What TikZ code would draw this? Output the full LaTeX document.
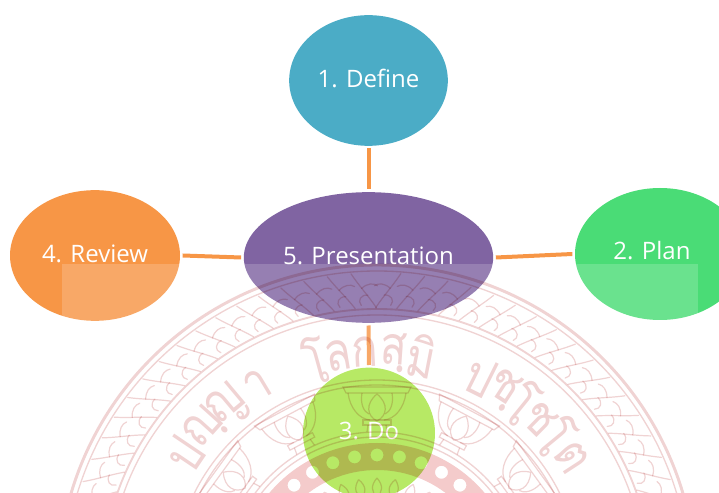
\documentclass[tikz,border=0pt]{standalone}
\usepackage{fontspec}
\setmainfont{Open Sans}
\newfontfamily\thaifont[Script=Thai,FakeStretch=0.82]{Loma}
\usetikzlibrary{calc,shapes.geometric}
\definecolor{stepblue}{HTML}{4BACC6}
\definecolor{steppurple}{HTML}{8064A2}
\definecolor{steporange}{HTML}{F79646}
\definecolor{stepgreen}{HTML}{4ADC76}
\definecolor{steplime}{HTML}{A8E544}
\definecolor{sealline}{HTML}{F0D3D3}
\definecolor{sealband}{HTML}{F4CBCB}
\tikzset{
  stepnode/.style={ellipse,inner sep=0pt,outer sep=2pt,text=white,text depth=3pt,font=\fontsize{18}{20}\selectfont},
  steplink/.style={steporange,line width=3pt},
  sealring/.style={sealline,line width=0.9pt},
  sealglyph/.style={inner sep=0pt,text=sealline,font=\thaifont\fontsize{40}{44}\selectfont},
}
\begin{document}
\begin{tikzpicture}[x=0.75pt,y=0.75pt]
\useasboundingbox (0,0) rectangle (719,493);
\clip (0,0) rectangle (719,493);
\node[stepnode,fill=stepgreen,minimum width=127.5pt,minimum height=99pt] (nplan) at (660,239) {};
\node[stepnode,fill=stepblue,minimum width=119pt,minimum height=98pt] (ndefine) at (368.5,412.5) {1. Define};
\node[stepnode,fill=steppurple,minimum width=187pt,minimum height=98pt] (npresent) at (368.5,235.5) {5. Presentation};
\node[stepnode,fill=steporange,minimum width=127.5pt,minimum height=98pt] (nreview) at (95,237.5) {4. Review};
\node[stepnode,fill=steplime,minimum width=99pt,minimum height=98pt] (ndo) at (369,60) {3. Do};
\node[stepnode] (nplantext) at (652,241) {2. Plan};
\draw[steplink] (ndefine.south) -- (npresent.north);
\draw[steplink] (npresent.south) -- (ndo.north);
\draw[steplink] (nreview.east) -- (npresent.west);
\draw[steplink] (npresent.east) -- (nplan.west);
% lighter panel over the lower part
\fill[white,opacity=0.18] (62,0) rectangle (698,229);
% seal
\begin{scope}[shift={(377,-91)},blend mode=multiply]
\foreach \r/\w in {319/2.2,313/1,275/1.4,269/1,204/1,199/1,152/1,147/1} {
  \draw[sealring,line width=\w pt] (0,0) circle (\r);
}
\foreach \a in {-90,-85.6,...,90} {
  \pgfmathsetmacro\s{ifthenelse(\a<0,-1,1)}
  \begin{scope}[rotate=\a,xscale=\s]
  \draw[sealring,line cap=round] (-13,311) .. controls (-5,298) and (3,289) .. (11,276);
  \draw[sealring,line cap=round] (-3,296) .. controls (3,301) and (9,301) .. (13,298);
  \draw[sealring,line cap=round] (3,289) .. controls (-4,290) and (-8,284) .. (-4,279);
  \end{scope}
}
% lotus posts
\foreach \a in {-54,-28,0,28,54} {
  \begin{scope}[rotate=\a]
  \draw[sealring] (-34,197) -- (34,197) -- (31,191) -- (-31,191) -- cycle;
  \draw[sealring] (0,190) .. controls (-12,180) and (-10,168) .. (0,163) .. controls (10,168) and (12,180) .. (0,190);
  \draw[sealring] (-29,191) .. controls (-27,176) and (-18,165) .. (-7,164);
  \draw[sealring] (29,191) .. controls (27,176) and (18,165) .. (7,164);
  \draw[sealring] (-15,191) .. controls (-17,180) and (-13,172) .. (-8,170);
  \draw[sealring] (15,191) .. controls (17,180) and (13,172) .. (8,170);
  \draw[sealring] (-14,164) rectangle (14,159);
  \draw[sealring] (-9,159) -- (-10,152);
  \draw[sealring] (9,159) -- (10,152);
  \end{scope}
}
% band with dots
\fill[sealband,even odd rule] (0,0) circle (141) (0,0) circle (114)
  foreach \a in {-90,-80,...,90} { (90-\a:129) circle (6.5) };
\foreach \a in {-40,-30,...,40} {
  \begin{scope}[rotate=\a]
  \draw[sealring] (0,106) .. controls (-7,98) and (-5,92) .. (0,86) .. controls (5,92) and (7,98) .. (0,106);
  \end{scope}
}
% motto
\foreach \a/\c [count=\i] in {-56/ป,-48/ญฺ,-40/ญ,-31/า,-15.5/โ,-9.5/ล,-3/ก,4/สฺ,11/มิ,26.5/ป,33/ชฺ,39/โ,44.5/ช,50.5/โ,57/ต} {
  \node[sealglyph,rotate=-\a] (glyph\i) at (90-\a:232) {\c};
}
\end{scope}
\end{tikzpicture}
\end{document}
